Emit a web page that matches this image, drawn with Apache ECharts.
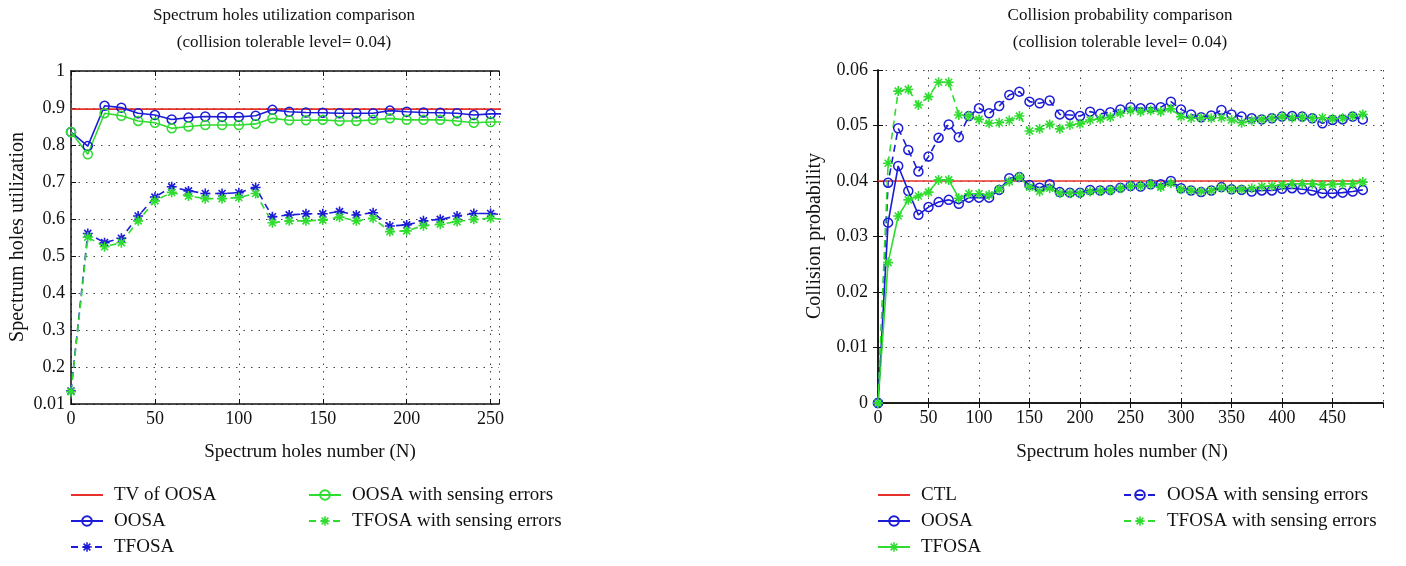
<!DOCTYPE html>
<html>
<head>
<meta charset="utf-8">
<script src="https://cdn.jsdelivr.net/npm/echarts@6/dist/echarts.min.js"></script>
<style>html,body{margin:0;padding:0;background:#fff;}#c{width:1406px;height:566px;}</style>
</head>
<body>
<div id="c"></div>
<script>
// ---------- Left chart data ----------
const leftX = [0,10,20,30,40,50,60,70,80,90,100,110,120,130,140,150,160,170,180,190,200,210,220,230,240,250,260];
const leftTV = 0.897;
const leftOOSA = [0.835,0.797,0.906,0.901,0.886,0.881,0.869,0.874,0.877,0.876,0.876,0.879,0.895,0.890,0.888,0.887,0.886,0.886,0.886,0.893,0.890,0.888,0.887,0.886,0.881,0.884,0.884];
const leftTFOSA = [0.135,0.561,0.536,0.548,0.608,0.659,0.687,0.676,0.669,0.669,0.671,0.685,0.606,0.611,0.614,0.614,0.620,0.611,0.617,0.581,0.584,0.595,0.599,0.608,0.615,0.615,0.610];
const leftOOSAErr = [0.835,0.775,0.886,0.879,0.865,0.860,0.845,0.850,0.854,0.854,0.854,0.857,0.872,0.867,0.867,0.868,0.865,0.865,0.868,0.872,0.868,0.868,0.868,0.865,0.860,0.862,0.862];
const leftTFOSAErr = [0.133,0.551,0.525,0.536,0.595,0.649,0.672,0.662,0.655,0.655,0.658,0.669,0.590,0.595,0.595,0.597,0.605,0.595,0.602,0.566,0.568,0.582,0.586,0.593,0.599,0.602,0.598];
const leftYTickLabels = ['0.01','0.2','0.3','0.4','0.5','0.6','0.7','0.8','0.9','1'];

// ---------- Right chart data ----------
const rightX = [0,10,20,30,40,50,60,70,80,90,100,110,120,130,140,150,160,170,180,190,200,210,220,230,240,250,260,270,280,290,300,310,320,330,340,350,360,370,380,390,400,410,420,430,440,450,460,470,480];
const rightCTL = 0.04;
const rightOOSA = [0,0.0325,0.0427,0.0382,0.0339,0.0353,0.0362,0.0366,0.0359,0.0370,0.0370,0.0370,0.0384,0.0405,0.0407,0.0393,0.0388,0.0394,0.0380,0.0379,0.0379,0.0384,0.0383,0.0384,0.0388,0.0391,0.0390,0.0394,0.0394,0.0400,0.0387,0.0383,0.0380,0.0383,0.0389,0.0385,0.0384,0.0381,0.0383,0.0383,0.0386,0.0387,0.0385,0.0383,0.0378,0.0378,0.0379,0.0381,0.0384];
const rightTFOSA = [0,0.0253,0.0337,0.0366,0.0373,0.0380,0.0402,0.0402,0.0369,0.0377,0.0377,0.0375,0.0385,0.0399,0.0407,0.0389,0.0381,0.0387,0.0378,0.0378,0.0378,0.0381,0.0382,0.0383,0.0387,0.0391,0.0391,0.0394,0.0389,0.0396,0.0385,0.0383,0.0381,0.0383,0.0388,0.0385,0.0385,0.0387,0.0390,0.0391,0.0393,0.0395,0.0395,0.0395,0.0393,0.0394,0.0395,0.0395,0.0398];
const rightOOSAErr = [0,0.0397,0.0495,0.0456,0.0417,0.0444,0.0478,0.0502,0.0479,0.0517,0.0531,0.0522,0.0535,0.0555,0.0561,0.0543,0.0540,0.0545,0.0520,0.0519,0.0517,0.0525,0.0521,0.0524,0.0529,0.0533,0.0531,0.0532,0.0533,0.0543,0.0529,0.0520,0.0515,0.0518,0.0528,0.0520,0.0516,0.0513,0.0511,0.0513,0.0516,0.0517,0.0516,0.0513,0.0504,0.0510,0.0511,0.0516,0.0511];
const rightTFOSAErr = [0,0.0432,0.0562,0.0565,0.0537,0.0552,0.0578,0.0578,0.0519,0.0517,0.0511,0.0504,0.0505,0.0509,0.0517,0.0490,0.0494,0.0502,0.0494,0.0501,0.0503,0.0510,0.0512,0.0515,0.0522,0.0527,0.0525,0.0527,0.0525,0.0530,0.0516,0.0513,0.0514,0.0513,0.0514,0.0510,0.0505,0.0509,0.0511,0.0513,0.0516,0.0514,0.0515,0.0513,0.0514,0.0512,0.0513,0.0517,0.0520];
const rightYTickLabels = ['0','0.01','0.02','0.03','0.04','0.05','0.06'];

// ---------- styling ----------
const FONT = 'Liberation Serif';
const BLUE = '#1c1cd6';
const GREEN = '#2fdc2f';
const RED = '#e8302a';
const STAR = 'path://M4.2 0L5.8 0L5.8 10L4.2 10Z M0 4.2L10 4.2L10 5.8L0 5.8Z M2.07 0.93L9.07 7.93L7.93 9.07L0.93 2.07Z M7.93 0.93L9.07 2.07L2.07 9.07L0.93 7.93Z';

const zip = (xs, ys) => xs.map((x, i) => [x, ys[i]]);

function mk(name, xs, ys, color, dashed, marker, xi, yi) {
  const s = {
    name: name, type: 'line', xAxisIndex: xi, yAxisIndex: yi,
    data: zip(xs, ys), showAllSymbol: true, clip: true,
    lineStyle: { color: color, width: 1.6, type: dashed ? [7, 5] : 'solid' },
    emphasis: { disabled: true }, animation: false, z: 3
  };
  if (marker === 'circle') {
    s.symbol = 'circle'; s.symbolSize = 9;
    s.itemStyle = { color: 'rgba(255,255,255,0)', borderColor: color, borderWidth: 1.5 };
  } else if (marker === 'star') {
    s.symbol = STAR; s.symbolSize = 10;
    s.itemStyle = { color: color, borderWidth: 0 };
  } else {
    s.symbol = 'none';
    s.lineStyle.width = 1.6;
    s.z = 2;
    s.itemStyle = { color: color };
  }
  return s;
}

const gridLine = { show: true, lineStyle: { color: '#444', width: 1, type: [1.5, 6] } };
const axisLine = { show: true, lineStyle: { color: '#111', width: 1.5 } };
const tick = { show: true, inside: true, length: 5, lineStyle: { color: '#111', width: 1 } };
const lab = { fontFamily: FONT, fontSize: 18, color: '#111' };

const chart = echarts.init(document.getElementById('c'), null, { renderer: 'canvas' });

const option = {
  animation: false,
  backgroundColor: '#fff',
  grid: [
    { left: 71, top: 71, width: 428, height: 333 },
    { left: 878, top: 70, width: 505, height: 333 }
  ],
  xAxis: [
    { type: 'value', gridIndex: 0, min: 0, max: 255, interval: 50, position: 'bottom',
      axisLine: axisLine, axisTick: tick, splitLine: gridLine,
      axisLabel: Object.assign({ margin: 6, formatter: v => (v % 50 === 0 ? String(v) : '') }, lab) },
    { type: 'value', gridIndex: 0, min: 0, max: 255, interval: 50, position: 'top',
      axisLine: axisLine, axisTick: tick, splitLine: { show: false }, axisLabel: { show: false } },
    { type: 'value', gridIndex: 1, min: 0, max: 500, interval: 50, position: 'bottom',
      axisLine: axisLine, axisTick: tick, splitLine: gridLine,
      axisLabel: Object.assign({ margin: 6, showMaxLabel: false }, lab) },
    { type: 'value', gridIndex: 1, min: 0, max: 500, interval: 50, position: 'top',
      axisLine: axisLine, axisTick: tick, splitLine: { show: false }, axisLabel: { show: false } }
  ],
  yAxis: [
    { type: 'value', gridIndex: 0, min: 0.1, max: 1, interval: 0.1,
      axisLine: axisLine, axisTick: tick, splitLine: gridLine,
      axisLabel: Object.assign({ margin: 6, formatter: v => leftYTickLabels[Math.round((v - 0.1) / 0.1)] }, lab) },
    { type: 'value', gridIndex: 1, min: 0, max: 0.06, interval: 0.01,
      axisLine: axisLine, axisTick: tick, splitLine: gridLine,
      axisLabel: Object.assign({ margin: 10, formatter: v => rightYTickLabels[Math.round(v / 0.01)] }, lab) },
    { type: 'value', gridIndex: 1, min: 0, max: 0.06, interval: 0.01, position: 'right',
      axisLine: axisLine, axisTick: tick, splitLine: { show: false }, axisLabel: { show: false } }
  ],
  legend: [],
  series: [
    mk('TV of OOSA', [leftX[0], leftX[leftX.length - 1]], [leftTV, leftTV], RED, false, 'none', 0, 0),
    mk('OOSA', leftX, leftOOSA, BLUE, false, 'circle', 0, 0),
    mk('TFOSA', leftX, leftTFOSA, BLUE, true, 'star', 0, 0),
    mk('OOSA with sensing errors', leftX, leftOOSAErr, GREEN, false, 'circle', 0, 0),
    mk('TFOSA with sensing errors', leftX, leftTFOSAErr, GREEN, true, 'star', 0, 0),

    mk('CTL', [rightX[0], rightX[rightX.length - 1]], [rightCTL, rightCTL], RED, false, 'none', 2, 1),
    mk('OOSA ', rightX, rightOOSA, BLUE, false, 'circle', 2, 1),
    mk('TFOSA ', rightX, rightTFOSA, GREEN, false, 'star', 2, 1),
    mk('OOSA with sensing errors ', rightX, rightOOSAErr, BLUE, true, 'circle', 2, 1),
    mk('TFOSA with sensing errors ', rightX, rightTFOSAErr, GREEN, true, 'star', 2, 1)
  ],
  graphic: []
};

const legBase = {
  orient: 'vertical', top: 485, padding: 0, itemWidth: 32, itemHeight: 12, itemGap: 6,
  selectedMode: false,
  textStyle: { fontFamily: FONT, fontSize: 19, color: '#111', lineHeight: 20, padding: [0, 0, 0, 6] }
};
const plainLine = (n) => ({ name: n, itemStyle: { opacity: 0 } });
option.legend = [
  Object.assign({}, legBase, { left: 70, data: [plainLine('TV of OOSA'), 'OOSA', 'TFOSA'] }),
  Object.assign({}, legBase, { left: 308, data: ['OOSA with sensing errors', 'TFOSA with sensing errors'] }),
  Object.assign({}, legBase, { left: 877, data: [plainLine('CTL'), 'OOSA ', 'TFOSA '] }),
  Object.assign({}, legBase, { left: 1123, data: ['OOSA with sensing errors ', 'TFOSA with sensing errors '] })
];

function txt(s, x, y, size, rot) {
  return { type: 'text', x: x, y: y, rotation: rot || 0, silent: true,
    style: { text: s, fontFamily: FONT, fontSize: size, fill: '#111', textAlign: 'center', textVerticalAlign: 'middle' } };
}
option.graphic = [
  txt('Spectrum holes utilization comparison', 284, 16, 17),
  txt('(collision tolerable level= 0.04)', 284, 43, 17),
  txt('Collision probability comparison', 1120, 16, 17),
  txt('(collision tolerable level= 0.04)', 1120, 43, 17),
  txt('Spectrum holes number (N)', 310, 452, 19),
  txt('Spectrum holes number (N)', 1122, 452, 19),
  txt('Spectrum holes utilization', 18, 237, 20, Math.PI / 2),
  txt('Collision probability', 815, 236, 20, Math.PI / 2)
];

chart.setOption(option);
</script>
</body>
</html>
